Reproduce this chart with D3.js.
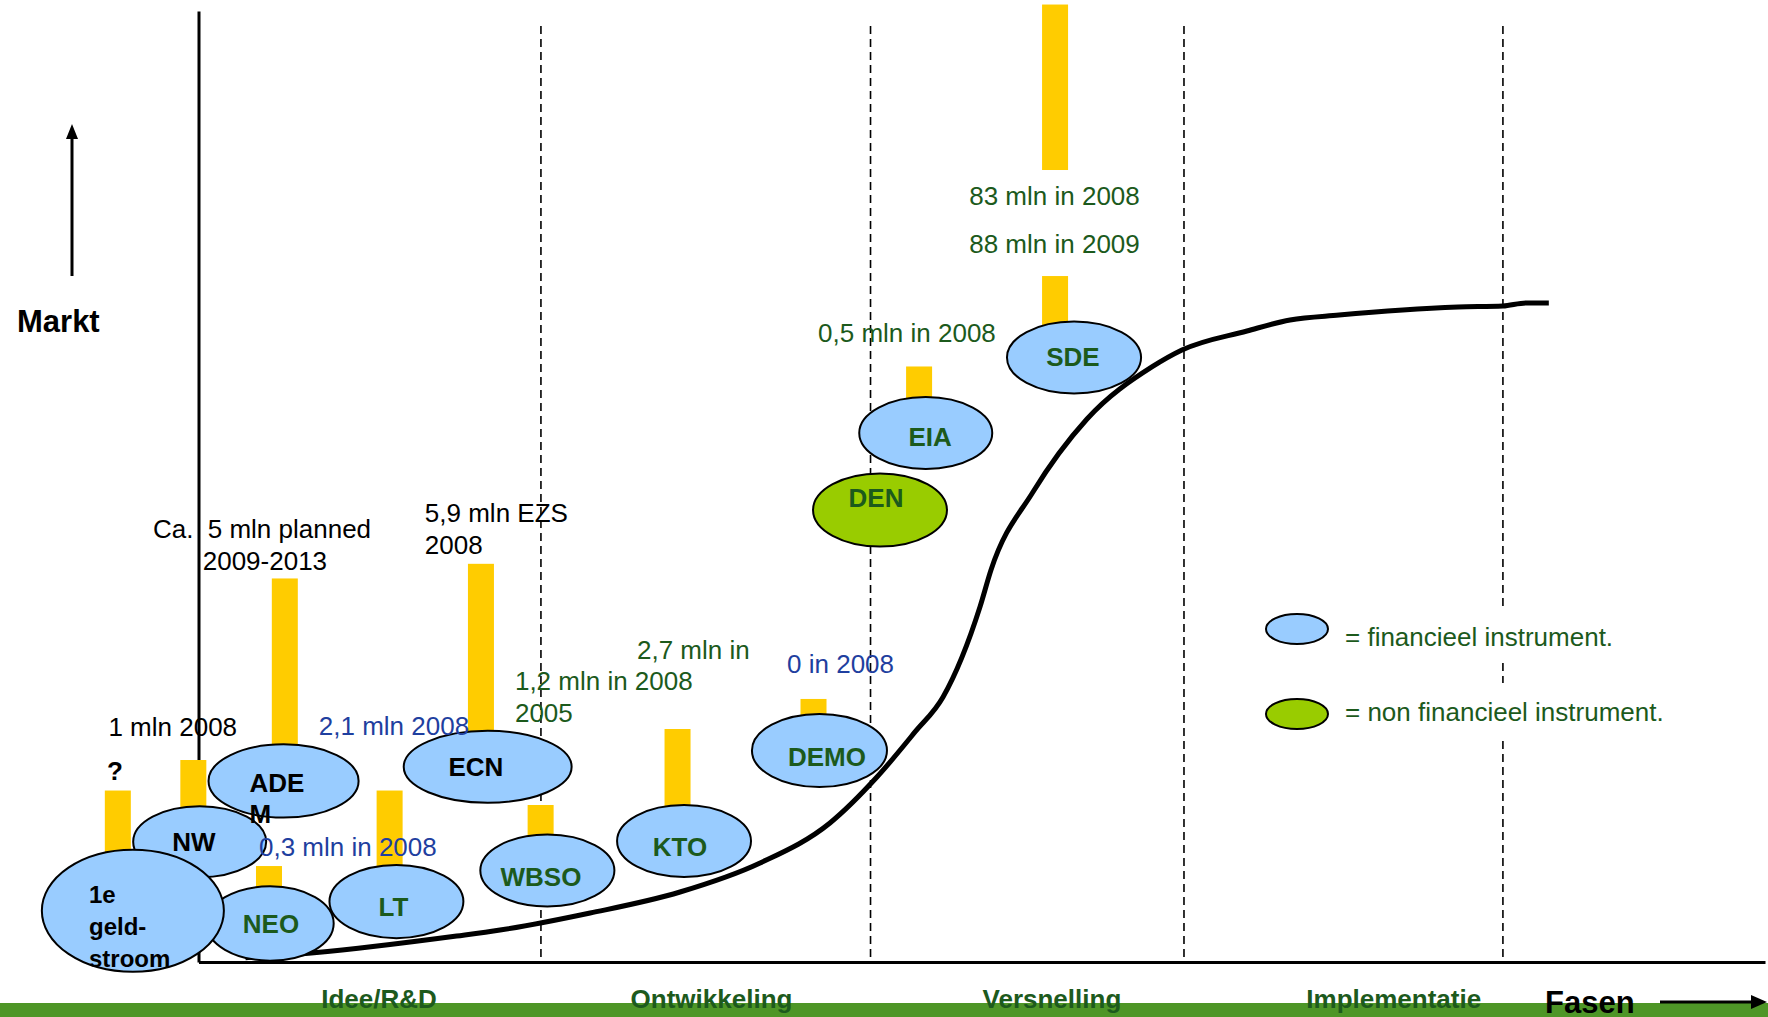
<!DOCTYPE html>
<html>
<head>
<meta charset="utf-8">
<script src="https://cdn.jsdelivr.net/npm/d3@7"></script>
<style>
  html, body { margin: 0; padding: 0; background: #fff; }
  svg { display: block; }
  text { font-family: "Liberation Sans", Arial, sans-serif; }
</style>
</head>
<body>
<svg id="chart" width="1768" height="1017"></svg>
<script>
// ---- Phases along the horizontal axis (progress 0–100) ----
const phases = ["Idee/R&D", "Ontwikkeling", "Versnelling", "Implementatie"];
const phaseBounds = [21.86, 42.9, 62.91, 83.27];
const phaseLabelAt = [11.52, 32.75, 54.48, 76.3];

// ---- Market development curve (x: phase progress, y: market 0–100) ----
const curveX = [3.0, 7.37, 16.48, 19.25, 25.0, 30.74, 35.85, 40.31, 43.31, 45.74, 47.53, 49.89,
                50.59, 53.27, 56.72, 60.86, 62.78, 66.93, 69.68, 72.81, 80.4, 83.27, 84.74, 86.2];
const curveY = [0.45, 0.98, 2.73, 3.36, 5.15, 7.36, 10.41, 14.62, 19.45, 24.19, 27.87, 37.36,
                41.22, 49.42, 57.1, 62.57, 64.35, 66.35, 67.51, 68.03, 68.87, 68.98, 69.3, 69.3];

// ---- Instruments: extent in phase progress and market level ----
const instrNames = ["ADE\nM", "NW", "NEO", "1e\ngeld-\nstroom", "LT", "ECN", "WBSO", "KTO", "DEMO", "DEN", "EIA", "SDE"];
const instrType  = ["fin", "fin", "fin", "fin", "fin", "fin", "fin", "fin", "fin", "nonfin", "fin", "fin"];
const instrFromX = [0.64, -4.17, 0.50, -10.0, 8.36, 13.1, 17.99, 26.72, 35.33, 39.23, 42.18, 51.61];
const instrToX   = [10.22, 4.32, 8.63, 1.62, 16.91, 23.82, 26.55, 35.27, 43.95, 47.78, 50.67, 60.17];
const instrFromY = [15.19, 8.9, 0.14, -1.03, 2.51, 16.74, 5.84, 8.94, 18.4, 43.68, 51.84, 59.78];
const instrToY   = [22.89, 16.37, 7.96, 11.8, 10.21, 24.31, 13.41, 16.51, 26.08, 51.38, 59.41, 67.35];
const instrLabelX = [3.26, -0.29, 4.63, -6.99, 12.45, 17.71, 21.86, 30.74, 40.12, 43.25, 46.7, 55.82];
const instrLabelY = [18.82, 12.62, 4.0, 7.1, 5.78, 20.5, 8.94, 12.09, 21.56, 48.79, 55.2, 63.62];
const instrLabelTone = ["dark", "dark", "green", "dark", "green", "dark", "green", "green", "green", "green", "green", "green"];

// ---- Budget indicator bars (phase progress, market from/to) ----
const barX    = [-5.15, -0.33, 5.51, 4.50, 12.2, 18.03, 21.84, 30.58, 39.26, 46.0, 54.68, 54.68];
const barFrom = [11.5, 16.2, 22.6, 7.5, 9.8, 24.0, 13.0, 16.2, 25.8, 59.1, 66.9, 83.28];
const barTo   = [18.03, 21.24, 40.33, 10.09, 18.03, 41.87, 16.51, 24.5, 27.66, 62.62, 72.13, 100.68];

// ---- Budget annotations ----
const annoText = ["?", "1 mln 2008", "Ca.", "5 mln planned", "2009-2013", "5,9 mln EZS", "2008",
                  "2,1 mln 2008", "0,3 mln in 2008", "1,2 mln in 2008", "2005", "2,7 mln in",
                  "0 in 2008", "0,5 mln in 2008", "83 mln in 2008", "88 mln in 2009"];
const annoX = [-5.33, -5.75, -2.9, 0.59, 0.27, 14.45, 14.45, 7.68, 3.86, 20.2, 20.2, 27.99, 37.57, 39.55, 49.2, 49.2];
const annoY = [19.1, 23.79, 44.58, 44.58, 41.25, 46.29, 42.94, 23.87, 11.18, 28.6, 25.24, 31.81, 30.34, 65.19, 79.55, 74.52];
const annoTone = ["query", "black", "black", "black", "black", "black", "black", "blue", "blue",
                  "green", "green", "green", "blue", "green", "green", "green"];

// ---- Legend ----
const legendTypes = ["fin", "nonfin"];
const legendTexts = ["= financieel instrument.", "= non financieel instrument."];

// ---- Styles ----
const FILL = { fin: "#99ccff", nonfin: "#99cc00" };
const TONE = { black: "#000", dark: "#000", blue: "#1f3f9f", green: "#1c5a1c", query: "#000" };
const PHASE_GREEN = "#1d5a1d";
const BAND = "#4e9627";
const GOLD = "#ffcc00";

const W = 1768, H = 1017;
const svg = d3.select("#chart");
svg.append("rect").attr("width", W).attr("height", H).attr("fill", "#fff");

const x = d3.scaleLinear().domain([0, 100]).range([198.5, 1765]);
const y = d3.scaleLinear().domain([0, 100]).range([962, 11]);

// bottom band
svg.append("rect").attr("x", 0).attr("y", 1003).attr("width", W).attr("height", H - 1003).attr("fill", BAND);

// phase separators
svg.append("g").selectAll("line").data(phaseBounds).join("line")
  .attr("x1", d => x(d)).attr("x2", d => x(d))
  .attr("y1", y(98.42)).attr("y2", y(0))
  .attr("stroke", "#000").attr("stroke-width", 1.6).attr("stroke-dasharray", "8,5");

// axes (domain lines only)
const gx = svg.append("g").attr("transform", `translate(0,${y(0)})`)
  .call(d3.axisBottom(x).tickValues([]).tickSizeOuter(0));
const gy = svg.append("g").attr("transform", `translate(${x(0)},0)`)
  .call(d3.axisLeft(y).tickValues([]).tickSizeOuter(0));
[gx, gy].forEach(g => g.select(".domain").attr("stroke", "#000").attr("stroke-width", 3));

// market curve
const curveData = curveX.map((d, i) => [d, curveY[i]]);
svg.append("path").datum(curveData)
  .attr("d", d3.line().x(d => x(d[0])).y(d => y(d[1])).curve(d3.curveMonotoneX))
  .attr("fill", "none").attr("stroke", "#000").attr("stroke-width", 5).attr("stroke-linejoin", "round");

// budget bars
const BAR_W = 26;
svg.append("g").selectAll("rect").data(barX.map((d, i) => ({ x: d, from: barFrom[i], to: barTo[i] }))).join("rect")
  .attr("x", d => x(d.x) - BAR_W / 2).attr("width", BAR_W)
  .attr("y", d => y(d.to)).attr("height", d => y(d.from) - y(d.to))
  .attr("fill", GOLD);

// instruments
const instr = instrNames.map((n, i) => ({
  name: n, type: instrType[i],
  cx: (x(instrFromX[i]) + x(instrToX[i])) / 2,
  rx: (x(instrToX[i]) - x(instrFromX[i])) / 2,
  cy: (y(instrFromY[i]) + y(instrToY[i])) / 2,
  ry: (y(instrFromY[i]) - y(instrToY[i])) / 2,
  lx: x(instrLabelX[i]), ly: y(instrLabelY[i]), tone: instrLabelTone[i]
}));
svg.append("g").selectAll("ellipse").data(instr).join("ellipse")
  .attr("cx", d => d.cx).attr("cy", d => d.cy).attr("rx", d => d.rx).attr("ry", d => d.ry)
  .attr("fill", d => FILL[d.type]).attr("stroke", "#000").attr("stroke-width", 2);

const labels = svg.append("g").selectAll("text").data(instr).join("text")
  .attr("x", d => d.lx).attr("y", d => d.ly)
  .attr("dominant-baseline", "central")
  .attr("text-anchor", d => d.name.includes("\n") ? "start" : "middle")
  .attr("font-weight", "bold")
  .attr("font-size", d => d.name.split("\n").length > 2 ? 24 : 26)
  .attr("fill", d => TONE[d.tone]);
labels.each(function (d) {
  const lines = d.name.split("\n");
  const lh = lines.length > 2 ? 32 : 31;
  d3.select(this).selectAll("tspan").data(lines).join("tspan")
    .attr("x", d.lx).attr("dy", (l, i) => i === 0 ? 0 : lh).text(l => l);
});

// annotations
svg.append("g").selectAll("text").data(annoText.map((t, i) => ({ t, x: annoX[i], y: annoY[i], tone: annoTone[i] }))).join("text")
  .attr("x", d => x(d.x)).attr("y", d => y(d.y))
  .attr("text-anchor", d => d.tone === "query" ? "middle" : "start")
  .attr("font-weight", d => d.tone === "query" ? "bold" : "normal")
  .attr("font-size", 26)
  .attr("fill", d => TONE[d.tone])
  .text(d => d.t);

// legend
const legend = svg.append("g");
const legRows = legendTypes.map((t, i) => ({ type: t, text: legendTexts[i], cy: [629, 714][i], base: [646, 721][i], box: [[607, 662], [683, 740]][i] }));
legend.selectAll("rect").data(legRows).join("rect")
  .attr("x", 1340).attr("width", 360).attr("y", d => d.box[0]).attr("height", d => d.box[1] - d.box[0]).attr("fill", "#fff");
legend.selectAll("ellipse").data(legRows).join("ellipse")
  .attr("cx", 1297).attr("cy", d => d.cy).attr("rx", 31).attr("ry", 15)
  .attr("fill", d => FILL[d.type]).attr("stroke", "#000").attr("stroke-width", 2);
legend.selectAll("text").data(legRows).join("text")
  .attr("x", 1345).attr("y", d => d.base).attr("font-size", 26).attr("fill", TONE.green).text(d => d.text);

// phase names
svg.append("g").selectAll("text").data(phases).join("text")
  .attr("x", (d, i) => x(phaseLabelAt[i])).attr("y", 1008)
  .attr("text-anchor", "middle").attr("font-weight", "bold").attr("font-size", 26)
  .attr("fill", PHASE_GREEN).text(d => d);

// axis titles with arrows
svg.append("text").attr("x", 17).attr("y", 332).attr("font-weight", "bold").attr("font-size", 31).text("Markt");
svg.append("line").attr("x1", 72).attr("x2", 72).attr("y1", 276).attr("y2", 136).attr("stroke", "#000").attr("stroke-width", 3);
svg.append("path").attr("d", "M72,124L66,139L78,139Z").attr("fill", "#000");

svg.append("text").attr("x", 1545).attr("y", 1013).attr("font-weight", "bold").attr("font-size", 31).text("Fasen");
svg.append("line").attr("x1", 1660).attr("x2", 1753).attr("y1", 1002).attr("y2", 1002).attr("stroke", "#000").attr("stroke-width", 3);
svg.append("path").attr("d", "M1767,1002L1751,995L1751,1009Z").attr("fill", "#000");
</script>
</body>
</html>
